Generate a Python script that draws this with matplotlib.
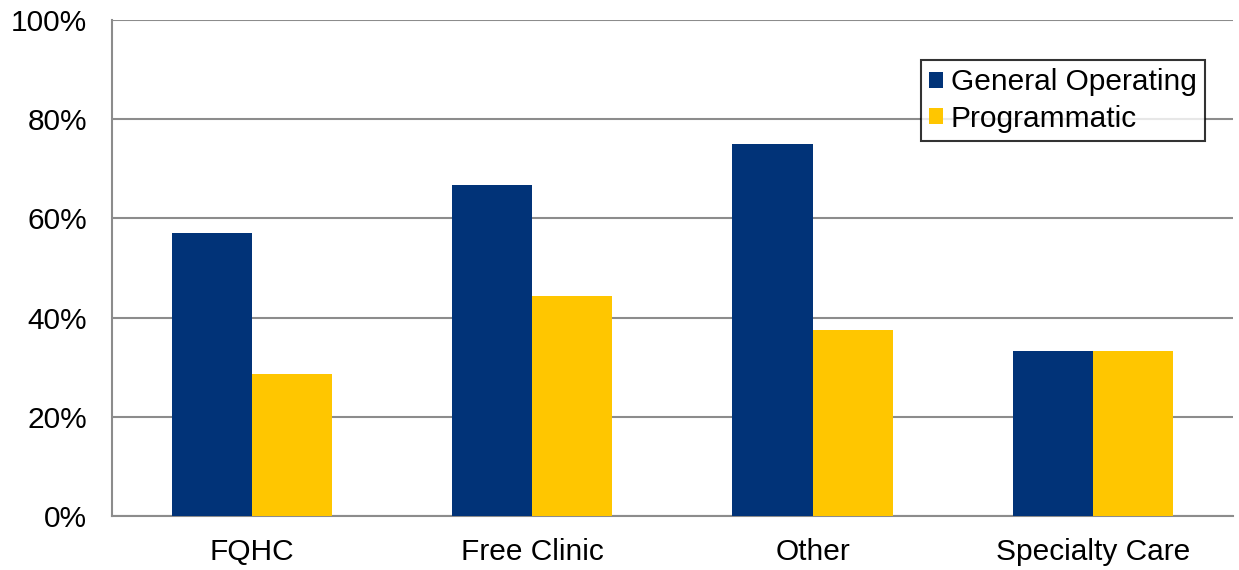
import matplotlib
matplotlib.use("Agg")
import matplotlib.pyplot as plt
import numpy as np
from matplotlib.ticker import PercentFormatter

categories = ["FQHC", "Free Clinic", "Other", "Specialty Care"]
general_operating = [57.1, 66.7, 75.0, 33.3]
programmatic = [28.6, 44.4, 37.5, 33.3]
series_names = ["General Operating", "Programmatic"]
yticks = [0, 20, 40, 60, 80, 100]

navy = "#013378"
gold = "#FFC600"
grid_grey = "#8C8C8C"

plt.rcParams["font.family"] = ["Liberation Sans", "DejaVu Sans"]

fig = plt.figure(figsize=(12.39, 5.70), dpi=100)
ax = fig.add_axes([0.0904, 0.0947, 0.9046, 0.8703])

x = np.arange(len(categories))
w = 0.2857
ax.bar(x - w / 2, general_operating, width=w, color=navy, label=series_names[0], zorder=3)
ax.bar(x + w / 2, programmatic, width=w, color=gold, label=series_names[1], zorder=3)

ax.set_xlim(-0.5, len(categories) - 0.5)
ax.set_ylim(0, 100)
ax.set_yticks(yticks)
ax.yaxis.set_major_formatter(PercentFormatter(decimals=0))
ax.set_xticks(x)
ax.set_xticklabels(categories)
ax.tick_params(axis="both", length=0, labelsize=21.5, colors="black")
ax.tick_params(axis="y", pad=18)
ax.tick_params(axis="x", pad=16)

ax.yaxis.grid(True, color=grid_grey, linewidth=1.5, zorder=0)
ax.set_axisbelow(True)
for side in ["top", "right"]:
    ax.spines[side].set_visible(False)
for side in ["left", "bottom"]:
    ax.spines[side].set_color(grid_grey)
    ax.spines[side].set_linewidth(1.5)

leg = ax.legend(loc="upper right", bbox_to_anchor=(0.975, 0.919), fontsize=21.5,
                frameon=True, fancybox=False, handlelength=0.47, handleheight=0.47,
                handletextpad=0.25, labelspacing=0.28, borderpad=0.28,
                borderaxespad=0)
leg.get_frame().set_edgecolor("black")
leg.get_frame().set_linewidth(1.5)

fig.savefig("out.png", dpi=100, facecolor="white")
